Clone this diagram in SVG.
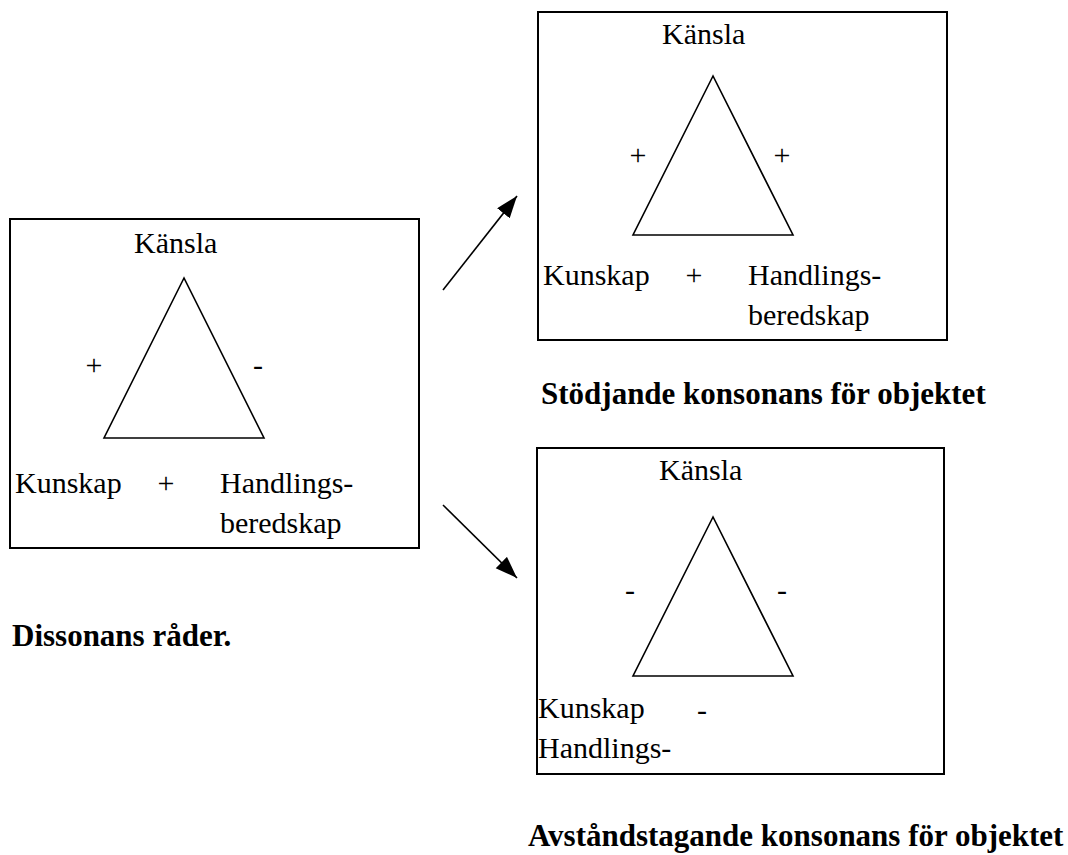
<svg xmlns="http://www.w3.org/2000/svg" width="1068" height="855" viewBox="0 0 1068 855">
<style>
.box{fill:none;stroke:#000;stroke-width:2}
.tri{fill:none;stroke:#000;stroke-width:1.6;stroke-linejoin:miter}
.t{font-family:"Liberation Serif","Times New Roman",serif;font-size:30px;fill:#000}
.m{text-anchor:middle}
.b{font-family:"Liberation Serif","Times New Roman",serif;font-size:31px;font-weight:bold;fill:#000}
.arr{stroke:#000;stroke-width:1.6;fill:none}
</style>
<defs>
<marker id="ah" markerUnits="userSpaceOnUse" markerWidth="24" markerHeight="18" refX="22" refY="8" orient="auto">
<path d="M0,0 L22,8 L0,16 z" fill="#000"/>
</marker>
</defs>
<rect width="1068" height="855" fill="#fff"/>
<g id="box-dissonans">
<rect class="box" x="10" y="219" width="409" height="329"/>
<polygon class="tri" points="184,278 104,438 264,438"/>
<text class="t" x="134" y="253">Känsla</text>
<text class="t m" x="94" y="375">+</text>
<text class="t m" x="258" y="375">-</text>
<text class="t" x="15" y="493">Kunskap</text>
<text class="t m" x="166" y="493">+</text>
<text class="t" x="220" y="493">Handlings-</text>
<text class="t" x="220" y="533">beredskap</text>
</g>
<g id="box-stodjande">
<rect class="box" x="538" y="12" width="409" height="328"/>
<polygon class="tri" points="713,76 633,235 793,235"/>
<text class="t" x="662" y="44">Känsla</text>
<text class="t m" x="638" y="165">+</text>
<text class="t m" x="782" y="165">+</text>
<text class="t" x="543" y="285">Kunskap</text>
<text class="t m" x="694" y="285">+</text>
<text class="t" x="748" y="285">Handlings-</text>
<text class="t" x="748" y="325">beredskap</text>
</g>
<g id="box-avstandstagande">
<rect class="box" x="537" y="448" width="407" height="326"/>
<polygon class="tri" points="713,517 633,676 793,676"/>
<text class="t" x="659" y="480">Känsla</text>
<text class="t m" x="630" y="600">-</text>
<text class="t m" x="782" y="600">-</text>
<text class="t" x="538" y="718">Kunskap</text>
<text class="t m" x="702" y="720">-</text>
<text class="t" x="538" y="758">Handlings-</text>
</g>
<g id="connectors">
<line class="arr" x1="443" y1="290" x2="517" y2="196" marker-end="url(#ah)"/>
<line class="arr" x1="443" y1="505" x2="517" y2="578" marker-end="url(#ah)"/>
</g>
<g id="captions">
<text class="b" x="12" y="646">Dissonans råder.</text>
<text class="b" x="541" y="404">Stödjande konsonans för objektet</text>
<text class="b" x="528" y="846">Avståndstagande konsonans för objektet</text>
</g>
</svg>
